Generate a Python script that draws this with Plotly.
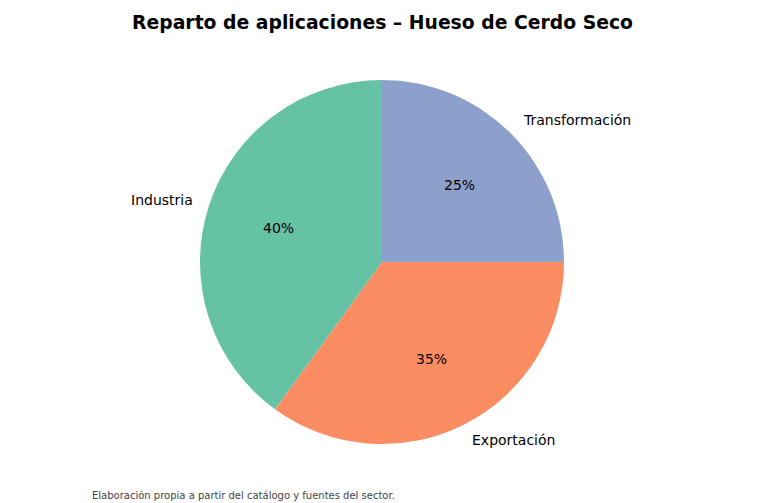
import numpy as np
import plotly.graph_objects as go

labels = ["Industria", "Exportación", "Transformación"]
shares = [40, 35, 25]
colors = ["#66c2a5", "#fc8d62", "#8da0cb"]

title = "Reparto de aplicaciones – Hueso de Cerdo Seco"
note = "Elaboración propia a partir del catálogo y fuentes del sector."

W, H = 765, 503
ml, mr, mt, mb = 200, 201, 80, 59
side = W - ml - mr  # square plot area

fig = go.Figure()
# matplotlib order: first slice from 12 o'clock going counterclockwise;
# same layout in plotly = reversed order drawn clockwise
fig.add_trace(go.Pie(
    labels=labels[::-1], values=shares[::-1], sort=False,
    direction="clockwise", rotation=0,
    marker=dict(colors=colors[::-1], line=dict(width=0)),
    textinfo="none", hoverinfo="label+percent",
    showlegend=False,
))

# label / percent placement like matplotlib (labeldistance 1.1, pctdistance 0.6)
vals = np.array(shares, dtype=float)
frac = vals / vals.sum()
start = 90 + 360 * np.concatenate([[0], np.cumsum(frac)[:-1]])
mid = np.deg2rad(start + 180 * frac)
annotations = []
for lab, f, a in zip(labels, frac, mid):
    cx, cy = np.cos(a), np.sin(a)
    annotations.append(dict(
        x=0.5 + 0.5 * 1.1 * cx, y=0.5 + 0.5 * 1.1 * cy,
        xref="paper", yref="paper", text=lab, showarrow=False,
        xanchor="left" if cx > 0 else "right", yanchor="middle",
        xshift=-3 if cx > 0 else 3,
        font=dict(size=14, color="black"),
    ))
    annotations.append(dict(
        x=0.5 + 0.5 * 0.6 * cx, y=0.5 + 0.5 * 0.6 * cy,
        xref="paper", yref="paper", text=f"{f * 100:.0f}%", showarrow=False,
        xanchor="center", yanchor="middle",
        font=dict(size=14, color="black"),
    ))

annotations.append(dict(
    x=(92 - ml) / side, y=-(495 - (H - mb)) / side,
    xref="paper", yref="paper", text=note, showarrow=False,
    xanchor="left", yanchor="middle", xshift=-2,
    font=dict(size=10, color="#444444"),
))

fig.update_layout(
    width=W, height=H,
    margin=dict(l=ml, r=mr, t=mt, b=mb),
    paper_bgcolor="white", plot_bgcolor="white",
    font=dict(family="DejaVu Sans", color="black"),
    title=dict(
        text="<b>" + title + "</b>", x=0.5, xanchor="center",
        y=1 - 22 / H, yanchor="middle",
        font=dict(size=18.8, color="black"),
    ),
    annotations=annotations,
)

fig.write_html("out.html", config={"displayModeBar": False},
               post_script="document.body.style.margin='0';")
